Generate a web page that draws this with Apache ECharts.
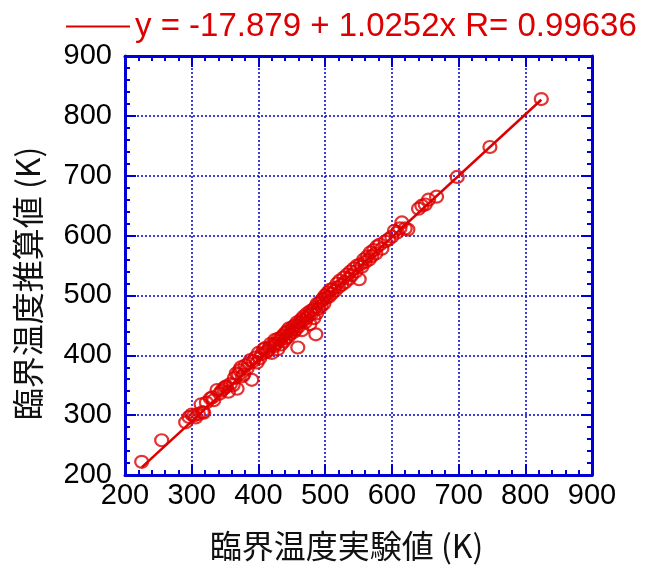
<!DOCTYPE html>
<html>
<head>
<meta charset="utf-8">
<script src="https://cdn.jsdelivr.net/npm/echarts@6/dist/echarts.min.js"></script>
<style>
  html, body { margin: 0; padding: 0; background: #ffffff; }
  #chart { width: 648px; height: 567px; }
</style>
</head>
<body>
<div id="chart"></div>
<script>
// Experimental critical temperatures (K)
const expT = [
  225, 255, 291, 296, 300, 303, 306, 310, 314, 316, 318, 322, 328, 331, 333, 338, 342, 345, 348, 350,
  352, 355, 358, 362, 364, 367, 368, 370, 372, 374, 376, 378, 380, 383, 385, 388, 390, 392, 395, 398,
  400, 402, 405, 408, 410, 412, 414, 416, 418, 420, 422, 424, 425, 427, 429, 430, 432, 434, 435, 437,
  438, 440, 441, 443, 445, 446, 448, 450, 451, 453, 455, 456, 458, 459, 460, 462, 464, 465, 467, 468,
  470, 472, 473, 475, 477, 478, 480, 482, 483, 485, 486, 487, 488, 490, 492, 494, 495, 497, 498, 500,
  502, 504, 506, 508, 510, 513, 515, 518, 520, 522, 525, 528, 530, 533, 536, 538, 540, 543, 546, 548,
  551, 553, 555, 558, 560, 563, 566, 568, 570, 573, 576, 578, 582, 585, 590, 595, 600, 604, 608, 612,
  615, 620, 624, 640, 645, 650, 655, 667, 698, 747, 824
];
// Estimated critical temperatures (K)
const estT = [
  222, 258, 288, 297, 301, 299, 296, 302, 318, 305, 304, 321, 328, 330, 325, 342, 336, 341, 344, 347,
  348, 339, 352, 350, 362, 370, 344, 368, 375, 380, 365, 368, 383, 378, 386, 392, 359, 390, 396, 388,
  404, 395, 402, 410, 412, 405, 408, 412, 419, 404, 418, 415, 426, 420, 410, 428, 425, 418, 430, 433,
  423, 437, 428, 440, 431, 445, 436, 442, 447, 439, 450, 443, 455, 413, 448, 454, 460, 442, 458, 465,
  455, 462, 470, 466, 452, 474, 470, 476, 462, 480, 435, 470, 486, 478, 488, 482, 492, 495, 486, 500,
  496, 505, 498, 510, 503, 512, 508, 520, 514, 525, 518, 530, 522, 535, 528, 540, 534, 545, 540, 550,
  527, 552, 548, 560, 556, 565, 560, 572, 566, 576, 570, 582, 585, 578, 590, 594, 598, 608, 605, 612,
  622, 612, 610, 645, 650, 652, 660, 665, 698, 748, 828
];
// Least-squares fit reported for the data
const fitIntercept = -17.879;
const fitSlope = 1.0252;
const fitR = 0.99636;
// Axis range and tick spacing (K)
const axisMin = 200;
const axisMax = 900;
const axisStep = 100;

const points = expT.map((x, i) => [x, estT[i]]);
const xLo = Math.min(...expT);
const xHi = Math.max(...expT);
const fitLine = [
  [xLo, fitIntercept + fitSlope * xLo],
  [xHi, fitIntercept + fitSlope * xHi]
];
const fitName = 'y = ' + fitIntercept + ' + ' + fitSlope + 'x R= ' + fitR;

const BLUE = '#0000d4';
const RED = '#dd0000';
const numFont = 'Liberation Sans';
const cjkFont = 'Noto Sans CJK JP';

function frameAxis(extra) {
  return Object.assign({
    type: 'value',
    min: axisMin,
    max: axisMax,
    interval: axisStep,
    axisLine: { show: true, onZero: false, lineStyle: { color: BLUE, width: 3 } },
    axisTick: { show: true, inside: true, length: 11, lineStyle: { color: BLUE, width: 2 } },
    minorTick: { show: true, splitNumber: 5, length: 5, lineStyle: { color: BLUE, width: 2 } },
    splitLine: { show: false },
    axisLabel: { show: false }
  }, extra);
}

const chart = echarts.init(document.getElementById('chart'), null, { renderer: 'canvas' });
chart.setOption({
  backgroundColor: '#ffffff',
  animation: false,
  legend: {
    left: 60,
    top: 5,
    itemWidth: 64,
    itemHeight: 14,
    itemStyle: { opacity: 0 },
    data: [fitName],
    textStyle: { color: RED, fontSize: 33, fontFamily: numFont }
  },
  grid: { left: 125, right: 56, top: 56, bottom: 89 },
  xAxis: [
    frameAxis({
      position: 'bottom',
      name: '臨界温度実験値 (K)',
      nameLocation: 'middle',
      nameGap: 55,
      nameTextStyle: { color: '#111', fontSize: 32, fontFamily: cjkFont, padding: [0, 24, 0, 0] },
      splitLine: { show: true, lineStyle: { color: BLUE, width: 1.5, type: [2, 2] } },
      axisLabel: { show: true, color: '#000', fontSize: 29, fontFamily: numFont, margin: 7 }
    }),
    frameAxis({ position: 'top' })
  ],
  yAxis: [
    frameAxis({
      position: 'left',
      name: '臨界温度推算値 (K)',
      nameLocation: 'middle',
      nameGap: 81,
      nameTextStyle: { color: '#111', fontSize: 32, fontFamily: cjkFont, padding: [0, 36, 0, 0] },
      splitLine: { show: true, lineStyle: { color: BLUE, width: 1.5, type: [2, 2] } },
      axisLabel: { show: true, color: '#000', fontSize: 29, fontFamily: numFont, margin: 13 }
    }),
    frameAxis({ position: 'right' })
  ],
  series: [
    {
      name: 'data',
      type: 'scatter',
      xAxisIndex: 0,
      yAxisIndex: 0,
      symbol: 'circle',
      symbolSize: [13, 12],
      itemStyle: { color: 'rgba(0,0,0,0)', borderColor: RED, borderWidth: 2.2 },
      data: points,
      z: 3
    },
    {
      name: fitName,
      type: 'line',
      xAxisIndex: 0,
      yAxisIndex: 0,
      symbol: 'none',
      lineStyle: { color: RED, width: 2.5 },
      itemStyle: { color: RED },
      data: fitLine,
      z: 4
    }
  ]
});
</script>
</body>
</html>
